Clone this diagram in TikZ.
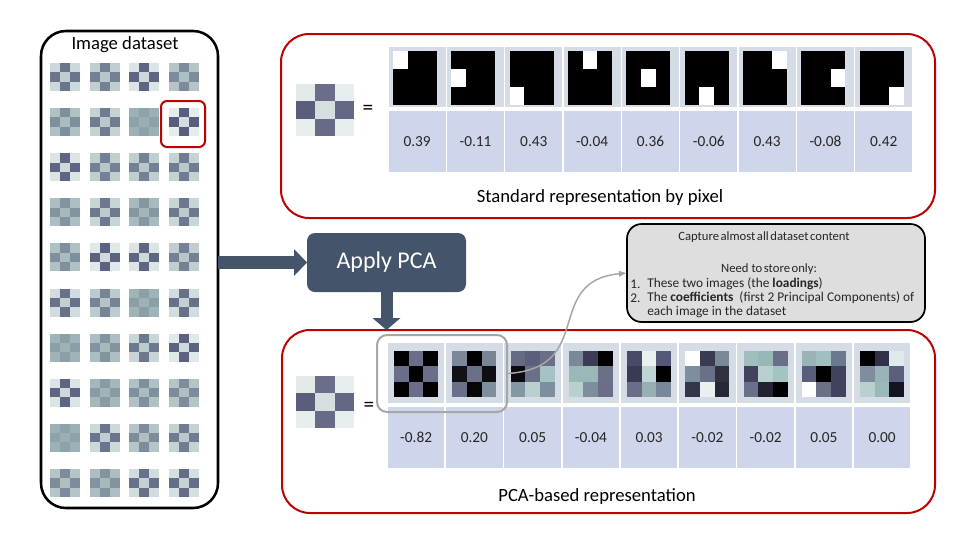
\documentclass[tikz,border=0pt]{standalone}
\usepackage{fontspec}
\setmainfont{Carlito}
\usetikzlibrary{arrows.meta,calc}
\definecolor{redb}{HTML}{C00000}
\definecolor{slate}{HTML}{44546A}
\definecolor{imgbg}{HTML}{D6DCE5}
\definecolor{coefbg}{HTML}{CFD5EA}
\definecolor{thB}{HTML}{94AAAE}
\definecolor{thC}{HTML}{E4ECEC}
\definecolor{thE}{HTML}{5A5E7E}
\definecolor{thM}{HTML}{D0DEDE}
\definecolor{notebg}{HTML}{DEDEDE}
\definecolor{selgray}{HTML}{A6A6A6}
\definecolor{txt}{HTML}{262626}

\newcommand\tightspaces{\spaceskip=0.12em\relax}

% dataset thumbnail: x, y (top-left), contrast 0..100
\newcommand\thumbimg[3]{%
  \colorlet{tcC}{thC!#3!thB}\colorlet{tcE}{thE!#3!thB}\colorlet{tcM}{thM!#3!thB}%
  \fill[tcC] (#1,#2) rectangle ++(30,28);
  \fill[tcE] ({#1+10},#2) rectangle ++(10,28);
  \fill[tcE] (#1,{#2+28/3}) rectangle ++(30,28/3);
  \fill[tcM] ({#1+10},{#2+28/3}) rectangle ++(10,28/3);}

% 3x3 image: x, y (top-left), width, height, 9 HTML colours
\newcommand\gridimg[5]{%
  \foreach \hx [count=\k from 0] in {#5}{%
    \pgfmathtruncatemacro\rr{floor(\k/3)}%
    \pgfmathtruncatemacro\ccl{mod(\k,3)}%
    \edef\tmpdef{\noexpand\definecolor{pcc}{HTML}{\hx}}\tmpdef
    \fill[pcc] ({#1+\ccl*#3/3},{#2+\rr*#4/3}) rectangle ++({#3/3+0.2},{#4/3+0.2});
  }}

% pixel basis image: x, y (top-left), white row, white col
\newcommand\basisimg[4]{%
  \fill[black] (#1,#2) rectangle ++(44,54);
  \fill[white] ({#1+#4*44/3},{#2+#3*18}) rectangle ++(44/3,18);}

\tikzset{
  box/.style={draw, inner sep=0pt, outer sep=0pt},
  redbox/.style={box, draw=redb, line width=1.5pt, rounded corners=21pt},
  lbl/.style={font=\fontsize{14}{16}\selectfont, text=black, inner sep=0pt},
  eqs/.style={font=\fontsize{16}{18}\selectfont, text=black, inner sep=0pt},
  coef/.style={font=\fontsize{11.5}{13}\selectfont, text=txt, inner sep=0pt},
  notetxt/.style={font=\fontsize{10}{12}\selectfont, text=txt, inner sep=0pt},
  notehead/.style={font=\fontsize{9.5}{11}\selectfont\tightspaces, text=txt, inner sep=0pt},
  blockarrow/.style={draw=slate, line width=#1},
}

\begin{document}
\begin{tikzpicture}[x=0.75pt,y=-0.75pt]
\useasboundingbox (0,0) rectangle (960,547);
\fill[white] (0,0) rectangle (960,547);

% ---------- left: image dataset ----------
\node[box, line width=1.9pt, rounded corners=18.75pt, minimum width=132.75pt, minimum height=357.75pt] (leftbox) at (129.5,269.5) {};
\node[lbl] (title) at (125,45) {Image dataset};
\foreach \cv [count=\k from 0] in {70,55,90,40, 35,60,10,100, 90,55,55,60, 30,65,25,65, 35,95,90,55,
                                   75,50,15,75, 15,30,65,95, 90,20,35,40, 10,70,40,60, 40,30,75,80}{
  \pgfmathsetmacro\tx{50+39.5*mod(\k,4)}
  \pgfmathsetmacro\ty{63+45.1*floor(\k/4)}
  \thumbimg{\tx}{\ty}{\cv}
}
\node[box, draw=redb, line width=1.5pt, rounded corners=4.5pt, minimum width=33pt, minimum height=34.5pt] (hilite) at (183,124) {};

% ---------- top: standard representation ----------
\node[redbox, minimum width=490.5pt, minimum height=138pt] (topbox) at (608,126) {};
\foreach \i in {0,...,8}{
  \fill[imgbg]  ({388+\i*58.33+0.8},47)  rectangle ({388+(\i+1)*58.33-0.8},107);
  \fill[coefbg] ({388+\i*58.33+0.8},111) rectangle ({388+(\i+1)*58.33-0.8},172);
}
\foreach \r/\c [count=\i from 0] in {0/0,1/0,2/0,0/1,1/1,2/1,0/2,1/2,2/2}{
  \pgfmathsetmacro\bx{393+\i*58.33}
  \basisimg{\bx}{51}{\r}{\c}
}
\foreach \v [count=\i from 0] in {0.39,-0.11,0.43,-0.04,0.36,-0.06,0.43,-0.08,0.42}{
  \node[coef] (tc\i) at ({388+(\i+0.5)*58.33},141.5) {\v};
}
\gridimg{296}{84}{58}{52}{E2EAEA,6A6E8A,E6EEEE,5A5E7C,D4E0E0,646884,E6EEEE,676B87,E6EEEE}
\node[eqs] (eq1) at (368,110) {=};
\node[lbl] (stdlab) at (600,198) {Standard representation by pixel};

% ---------- bottom: PCA-based representation ----------
\node[redbox, minimum width=489.75pt, minimum height=137.25pt] (botbox) at (608.5,421.5) {};
\foreach \i in {0,...,8}{
  \fill[imgbg]  ({387+\i*58.25+0.8},343) rectangle ({387+(\i+1)*58.25-0.8},403);
  \fill[coefbg] ({387+\i*58.25+0.8},407) rectangle ({387+(\i+1)*58.25-0.8},468);
}
\gridimg{394}{351}{44}{46}{000000,6A6E88,000000,6A6E88,000000,6A6E88,000000,6A6E88,000000}
\gridimg{452.25}{351}{44}{46}{7A8898,000000,778596,111118,6A7088,0D0D12,6A7088,050508,7E8E9A}
\gridimg{510.5}{351}{44}{46}{666A85,5C5F7C,6A6E88,0A0A10,6A7088,A4C4C4,8498A4,B8D0D0,7E8E9E}
\gridimg{568.75}{351}{44}{46}{7A8898,3C3C56,000000,9AB8B8,9AB8B8,6A7088,B8D0D0,7E8E9E,6A6E88}
\gridimg{627}{351}{44}{46}{4A4A68,E8F0F0,56587A,3A3A55,C0D4D4,000000,6A6E88,98B0B4,788898}
\gridimg{685.25}{351}{44}{46}{FFFFFF,3A3A52,7A8898,7E8E9E,6A7088,30303F,34344A,E8F0F0,262636}
\gridimg{743.5}{351}{44}{46}{A0BEBE,98B8B8,6A6E88,42425E,B8D0D0,A4C4C4,6A7088,222230,000000}
\gridimg{801.75}{351}{44}{46}{98B4B8,A0C0C0,6A7890,5A5C7C,000000,42425E,FFFFFF,6A7088,42425E}
\gridimg{860}{351}{44}{46}{000000,30304A,E0EAEA,7E8E9E,98B4B8,5C5E7E,B8D0D0,9AB8B8,141420}
\foreach \v [count=\i from 0] in {-0.82,0.20,0.05,-0.04,0.03,-0.02,-0.02,0.05,0.00}{
  \node[coef] (bc\i) at ({387+(\i+0.5)*58.25},437.5) {\v};
}
\gridimg{296}{376}{58}{52}{E2EAEA,6A6E8A,E6EEEE,5A5E7C,D4E0E0,646884,E6EEEE,676B87,E6EEEE}
\node[eqs] (eq2) at (369,407) {=};
\node[lbl] (pcalab) at (597,497) {PCA-based representation};

% selection of the two loadings
\node[box, draw=selgray, line width=1.5pt, rounded corners=7.5pt, minimum width=97.5pt, minimum height=57.75pt] (sel) at (442,373.5) {};

% ---------- Apply PCA ----------
\node[box, draw=none, fill=slate, rounded corners=6pt, minimum width=119.25pt, minimum height=44.25pt,
      text=white, font=\fontsize{18}{20}\selectfont] (pca) at (386.5,262.5) {Apply PCA};
\draw[blockarrow=9.75pt, -{Triangle[length=9.75pt,width=20.25pt,line width=0pt]}] (leftbox.east |- pca.west) -- (pca.west);
\draw[blockarrow=9pt, -{Triangle[length=9pt,width=21pt,line width=0pt]}] (pca.south) -- (pca.south |- botbox.north);

% ---------- note ----------
\node[box, fill=notebg, line width=1.3pt, rounded corners=11pt, minimum width=223.5pt, minimum height=73.5pt] (note) at (776,273) {};
\node[notehead] (n1) at (764,237) {Capture almost all dataset content};
\node[notehead] (n2) at (769,269) {Need\ \ to store only:};
\node[notetxt, anchor=west] (n3a) at (630,284) {1.};
\node[notetxt, anchor=west] (n3) at (647,284) {These two images (the \textbf{loadings})};
\node[notetxt, anchor=west] (n4a) at (630,298) {2.};
\node[notetxt, anchor=west] (n4) at (647,298) {The \textbf{coefficients}\ \ (first 2 Principal Components) of};
\node[notetxt, anchor=west] (n5) at (647,312) {each image in the dataset};

\draw[selgray, line width=1.1pt, -{Latex[length=6pt,width=5pt]}] (sel.east) .. controls +(90,-5) and +(-85,8) .. (note.west);
\end{tikzpicture}
\end{document}
